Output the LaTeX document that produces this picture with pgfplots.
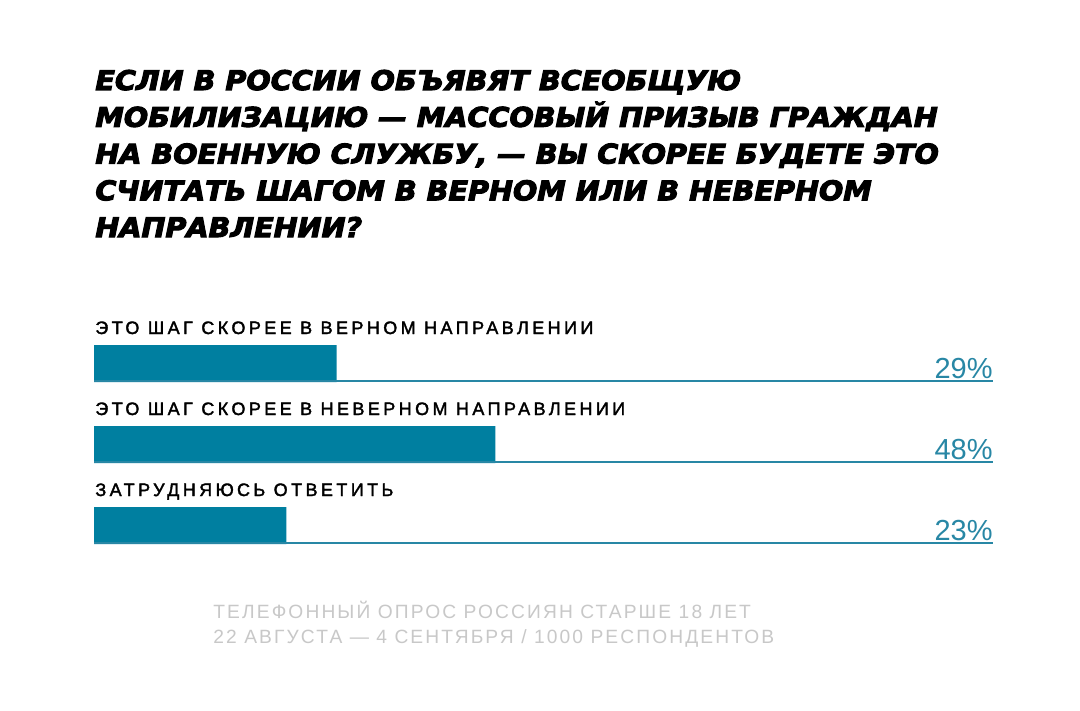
\documentclass[border=0pt]{standalone}
\usepackage{pgfplots}
\pgfplotsset{compat=1.18}
\usepackage{fontspec}
\setmainfont{Liberation Sans}
\newfontfamily\titlefont{DejaVu Sans}[FakeStretch=1.06]
\newfontfamily\labelfont{Liberation Sans}[LetterSpace=19]
\newfontfamily\footfont{Liberation Sans}[LetterSpace=11]
\newcommand\heavy[1]{\special{pdf:literal direct 2 Tr 0.55 w}#1\special{pdf:literal direct 0 Tr 0 w}}
\newcommand\medium[1]{\special{pdf:literal direct 2 Tr 0.18 w}#1\special{pdf:literal direct 0 Tr 0 w}}
\definecolor{barteal}{RGB}{0,127,160}
\definecolor{numteal}{RGB}{40,135,165}
\definecolor{footgray}{RGB}{200,200,200}
\begin{document}
\begin{tikzpicture}[x=0.5pt,y=-0.5pt]
\path[fill=white, use as bounding box] (0,0) rectangle (1080,711);
\tikzset{ttl/.style={anchor=base west, inner sep=0pt, font=\titlefont\bfseries\itshape\fontsize{13.5}{16}\selectfont}}
\node[ttl] at (95,90) {\heavy{ЕСЛИ В РОССИИ ОБЪЯВЯТ ВСЕОБЩУЮ}};
\node[ttl] at (95,126.75) {\heavy{МОБИЛИЗАЦИЮ — МАССОВЫЙ ПРИЗЫВ ГРАЖДАН}};
\node[ttl] at (95,163.5) {\heavy{НА ВОЕННУЮ СЛУЖБУ, — ВЫ СКОРЕЕ БУДЕТЕ ЭТО}};
\node[ttl] at (95,200.25) {\heavy{СЧИТАТЬ ШАГОМ В ВЕРНОМ ИЛИ В НЕВЕРНОМ}};
\node[ttl] at (95,237) {\heavy{НАПРАВЛЕНИИ?}};
\tikzset{ft/.style={anchor=base west, inner sep=0pt, text=footgray, font=\footfont\fontsize{9.6}{11}\selectfont}}
\node[ft] at (213,618) {ТЕЛЕФОННЫЙ ОПРОС РОССИЯН СТАРШЕ 18 ЛЕТ};
\node[ft] at (213,643) {22 АВГУСТА — 4 СЕНТЯБРЯ / 1000 РЕСПОНДЕНТОВ};
\begin{axis}[at={(47pt,-283pt)}, anchor=south west, scale only axis,
  width=449.5pt, height=121.5pt, xmin=0, xmax=107.5, ymin=-0.5, ymax=2.5,
  y dir=reverse, axis lines=none, clip=false, bar width=18.5pt]
\addplot[xbar, fill=barteal, draw=none] coordinates {(29,0) (48,1) (23,2)};
\addplot[sharp plot, numteal, line width=1pt, no markers] coordinates {(0,0.22) (107.5,0.22)};
\addplot[sharp plot, numteal, line width=1pt, no markers] coordinates {(0,1.22) (107.5,1.22)};
\addplot[sharp plot, numteal, line width=1pt, no markers] coordinates {(0,2.22) (107.5,2.22)};
\tikzset{pct/.style={anchor=base east, inner sep=0pt, text=numteal, font=\fontsize{14.5}{16}\selectfont}}
\node[pct] at (axis cs:107.5,0.179) {29\%};
\node[pct] at (axis cs:107.5,1.179) {48\%};
\node[pct] at (axis cs:107.5,2.179) {23\%};
\tikzset{lbl/.style={anchor=base west, inner sep=0pt, xshift=0.5pt, font=\labelfont\fontsize{9}{10}\selectfont}}
\node[lbl] at (axis cs:0,-0.364) {\medium{ЭТО ШАГ СКОРЕЕ В ВЕРНОМ НАПРАВЛЕНИИ}};
\node[lbl] at (axis cs:0,0.636) {\medium{ЭТО ШАГ СКОРЕЕ В НЕВЕРНОМ НАПРАВЛЕНИИ}};
\node[lbl] at (axis cs:0,1.636) {\medium{ЗАТРУДНЯЮСЬ ОТВЕТИТЬ}};
\end{axis}
\end{tikzpicture}
\end{document}
